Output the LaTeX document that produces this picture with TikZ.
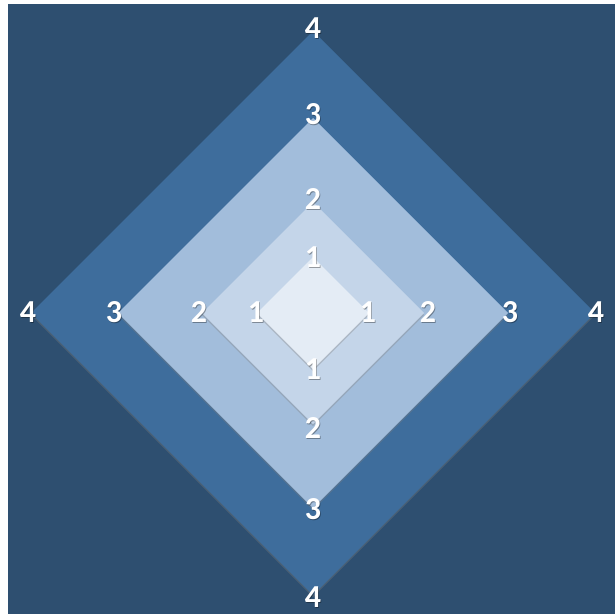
\documentclass[tikz,border=0pt]{standalone}
\usepackage{fontspec}
\setmainfont{Carlito}
\usetikzlibrary{shadows}
\definecolor{bgblue}{HTML}{2E4F70}
\definecolor{ringfour}{HTML}{3E6D9C}
\definecolor{ringthree}{HTML}{A2BDDB}
\definecolor{ringtwo}{HTML}{C4D5E9}
\definecolor{ringone}{HTML}{E4ECF5}
\newcommand{\numfont}{\fontsize{32}{32}\selectfont\bfseries}
\begin{document}
\begin{tikzpicture}[
  x=1pt,
  y=-1pt,
  line join=miter,
  ring/.style={draw=none,drop shadow={opacity=0.35,shadow xshift=0pt,shadow yshift=-2pt}},
  num/.style={text=white,inner sep=0pt,font=\numfont},
  numshade/.style={text=black,text opacity=0.35,inner sep=0pt,font=\numfont,xshift=0.8pt,yshift=-1pt}
]
\useasboundingbox (0,0) rectangle (615,616);

% Background panel
\fill[bgblue] (8,4) rectangle (615,614);
\coordinate (C) at (313,313);

% Nested diamonds, outer to inner
\fill[ring,ringfour]  (C) ++(0,-282) -- ++(282,282) -- ++(-282,282) -- ++(-282,-282) -- cycle;
\fill[ring,ringthree] (C) ++(0,-195) -- ++(195,195) -- ++(-195,195) -- ++(-195,-195) -- cycle;
\fill[ring,ringtwo]   (C) ++(0,-111) -- ++(111,111) -- ++(-111,111) -- ++(-111,-111) -- cycle;
\fill[ring,ringone]   (C) ++(0,-56) -- ++(56,56) -- ++(-56,56) -- ++(-56,-56) -- cycle;

% Labels: level, offset from centre
\foreach \lvl/\dx/\dy/\side in {
    4/0/-285/top, 4/-285/-1/left, 4/283/-1/right, 4/0/284/bottom,
    3/0/-199/top, 3/-199/-1/left, 3/197/-1/right, 3/0/196/bottom,
    2/0/-114/top, 2/-114/-1/left, 2/115/-1/right, 2/0/115/bottom,
    1/0/-56/top,  1/-57/-1/left,  1/55/-1/right,  1/0/56/bottom} {
  \node[numshade] (\side\lvl s) at ([shift={(\dx,\dy)}]C) {\lvl};
  \node[num] (\side\lvl) at ([shift={(\dx,\dy)}]C) {\lvl};
}

\end{tikzpicture}
\end{document}
